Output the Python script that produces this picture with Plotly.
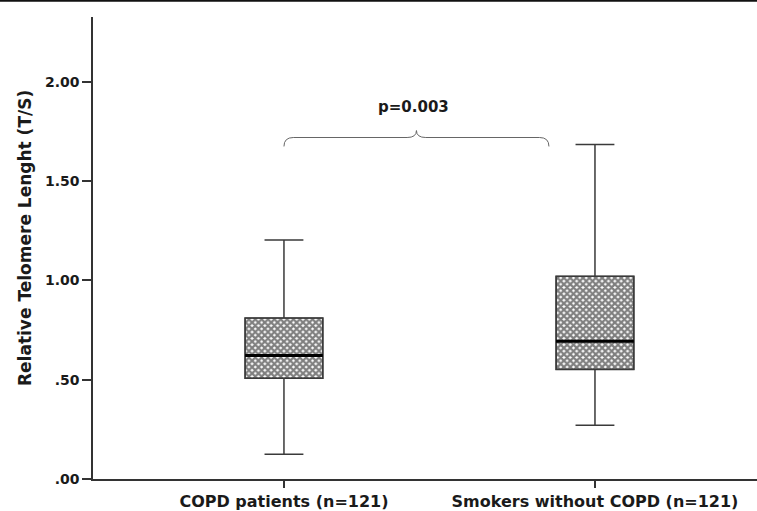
import plotly.graph_objects as go

# ---- data ----
categories = ["COPD patients (n=121)", "Smokers without COPD (n=121)"]
q1 = [0.507, 0.552]
median = [0.622, 0.694]
q3 = [0.811, 1.021]
lower_whisker = [0.125, 0.271]
upper_whisker = [1.204, 1.685]
y_tick_vals = [0.0, 0.5, 1.0, 1.5, 2.0]
y_tick_text = [".00", ".50", "1.00", "1.50", "2.00"]
p_text = "p=0.003"
bracket_span = [0.0, 0.852]
bracket_level = 1.72

positions = list(range(len(categories)))
BOX_W = 0.25
FONT = "DejaVu Sans, Arial, sans-serif"
LINE_C = "#3a3a3a"
TXT_C = "#1a1a1a"

fig = go.Figure()

# hatched box bodies
fig.add_trace(go.Bar(
    x=positions, base=q1, y=[b - a for a, b in zip(q1, q3)], width=BOX_W,
    marker=dict(color="white", line=dict(color=LINE_C, width=1.2),
                pattern=dict(shape="x", size=4.5, solidity=0.75,
                             fgcolor="#000000", bgcolor="white")),
    hoverinfo="skip", showlegend=False))

# box outline + whiskers
fig.add_trace(go.Box(
    x=positions, q1=q1, median=median, q3=q3,
    lowerfence=lower_whisker, upperfence=upper_whisker,
    width=BOX_W, whiskerwidth=0.5, boxpoints=False,
    fillcolor="rgba(0,0,0,0)", line=dict(color=LINE_C, width=1.5),
    showlegend=False))

# thick medians
for p, m in zip(positions, median):
    fig.add_trace(go.Scatter(
        x=[p - BOX_W / 2, p + BOX_W / 2], y=[m, m], mode="lines",
        line=dict(color="black", width=3), hoverinfo="skip", showlegend=False))

# significance bracket
x0, x1 = bracket_span
xm = (x0 + x1) / 2
h = bracket_level
d = 0.045
c = 0.03
path = (f"M {x0},{h-d} Q {x0},{h} {x0+c},{h} L {xm-c},{h} "
        f"Q {xm},{h} {xm},{h+0.035} Q {xm},{h} {xm+c},{h} "
        f"L {x1-c},{h} Q {x1},{h} {x1},{h-d}")
fig.add_shape(type="path", path=path, xref="x", yref="y",
              line=dict(color="#666666", width=1))
fig.add_annotation(x=xm - 0.01, y=1.876, xref="x", yref="y", text=p_text,
                   showarrow=False, font=dict(family=FONT, size=15, color=TXT_C,
                                              weight="bold"))

# y-axis title
fig.add_annotation(x=-0.1024, y=0.5216, xref="paper", yref="paper",
                   text="Relative Telomere Lenght (T/S)", textangle=-90,
                   showarrow=False, xanchor="center", yanchor="middle",
                   font=dict(family=FONT, size=17, color=TXT_C, weight="bold"))

# top rule
fig.add_shape(type="line", xref="paper", yref="paper", x0=-0.2, x1=1.1,
              y0=1.0355, y1=1.0355, line=dict(color="#111111", width=2.5))

fig.update_layout(
    width=757, height=511,
    margin=dict(l=93, r=0, t=17, b=30),
    plot_bgcolor="white", paper_bgcolor="white",
    font=dict(family=FONT, color=TXT_C),
    xaxis=dict(range=[-0.614, 1.521], tickvals=positions, ticktext=categories,
               showline=True, linecolor="#333333", linewidth=1.5,
               ticks="outside", ticklen=7, tickwidth=1.5, tickcolor="#333333",
               showgrid=False, zeroline=False,
               tickfont=dict(family=FONT, size=16, color=TXT_C, weight="bold")),
    yaxis=dict(range=[0, 2.327], tickvals=y_tick_vals, ticktext=y_tick_text,
               showline=True, linecolor="#333333", linewidth=1.5,
               ticks="outside", ticklen=9, tickwidth=1.5, tickcolor="#333333",
               showgrid=False, zeroline=False,
               tickfont=dict(family=FONT, size=14, color=TXT_C, weight="bold")),
)

fig.write_html("out.html", config={"displayModeBar": False},
               post_script="document.body.style.margin='0';document.body.style.padding='0';")
